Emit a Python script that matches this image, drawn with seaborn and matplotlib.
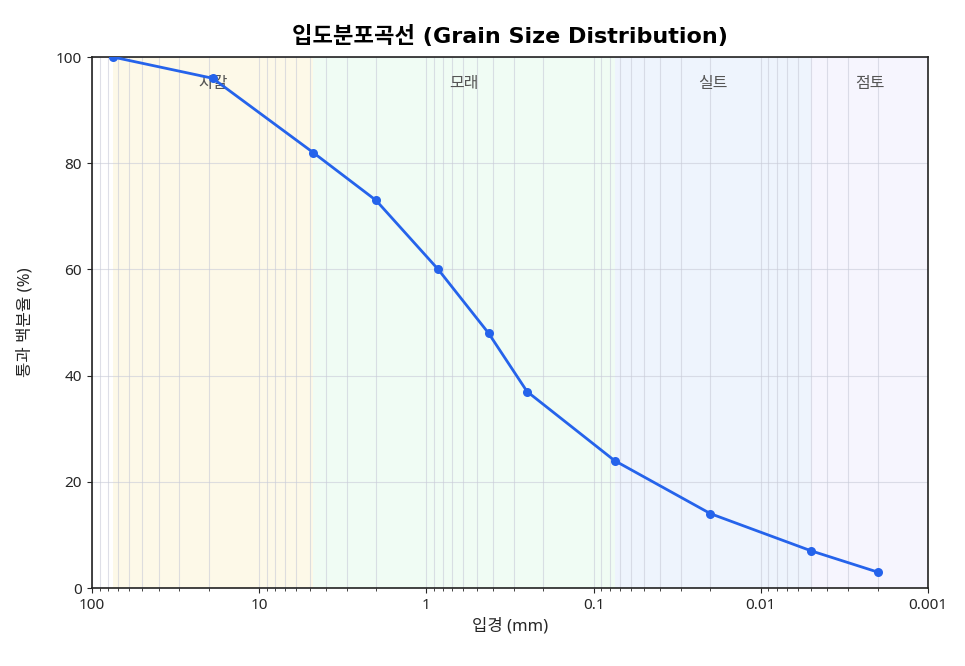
import numpy as np
import pandas as pd
import matplotlib
matplotlib.use("Agg")
import matplotlib.pyplot as plt
import seaborn as sns

# 체 크기 (mm) 와 통과 백분율 (%)
sizes = [75, 19, 4.75, 2, 0.85, 0.425, 0.25, 0.075, 0.02, 0.005, 0.002]
passing = [100, 96, 82, 73, 60, 48, 37, 24, 14, 7, 3]

zone_names = ["자갈", "모래", "실트", "점토"]
zone_edges = [(75, 4.75), (4.75, 0.075), (0.075, 0.005), (0.005, 0.001)]
zone_colors = ["#fdf9e8", "#f0fcf4", "#eef4fd", "#f6f5fe"]

df = pd.DataFrame({"size": sizes, "passing": passing})

sns.set_style("ticks")
plt.rcParams["font.family"] = ["Noto Sans", "Noto Sans CJK KR", "DejaVu Sans"]

fig = plt.figure(figsize=(9.65, 6.66), dpi=100)
ax = fig.add_axes([0.0953, 0.1171, 0.8664, 0.7973])

for name, (hi, lo), c in zip(zone_names, zone_edges, zone_colors):
    ax.axvspan(lo, hi, color=c, zorder=0, lw=0)
    ax.text(np.sqrt(hi * lo), 95, name, ha="center", va="center",
            fontsize=11.5, color="#555555", zorder=1)

sns.lineplot(data=df, x="size", y="passing", ax=ax, color="#2563eb",
             marker="o", markersize=6.5, markeredgewidth=0, linewidth=2,
             zorder=3)

ax.set_xscale("log")
ax.set_xlim(100, 0.001)
ax.set_ylim(0, 100)
ax.set_xticks([100, 10, 1, 0.1, 0.01, 0.001])
ax.set_xticklabels(["100", "10", "1", "0.1", "0.01", "0.001"])
ax.grid(True, which="both", axis="x", color="#c8cbd8", alpha=0.6, lw=0.8, zorder=0.5)
ax.grid(True, which="major", axis="y", color="#c8cbd8", alpha=0.6, lw=0.8, zorder=0.5)
ax.set_axisbelow(True)
ax.tick_params(axis="both", labelsize=11)
for s in ax.spines.values():
    s.set_linewidth(1.2)
    s.set_color("#222222")

ax.set_xlabel("입경 (mm)", fontsize=12)
ax.set_ylabel("통과 백분율 (%)", fontsize=12, labelpad=16)
ax.set_title("입도분포곡선 (Grain Size Distribution)", fontsize=16,
             fontweight="bold", pad=10, color="black",
             family=["DejaVu Sans", "Noto Sans CJK KR"])

fig.savefig("out.png", dpi=100)
